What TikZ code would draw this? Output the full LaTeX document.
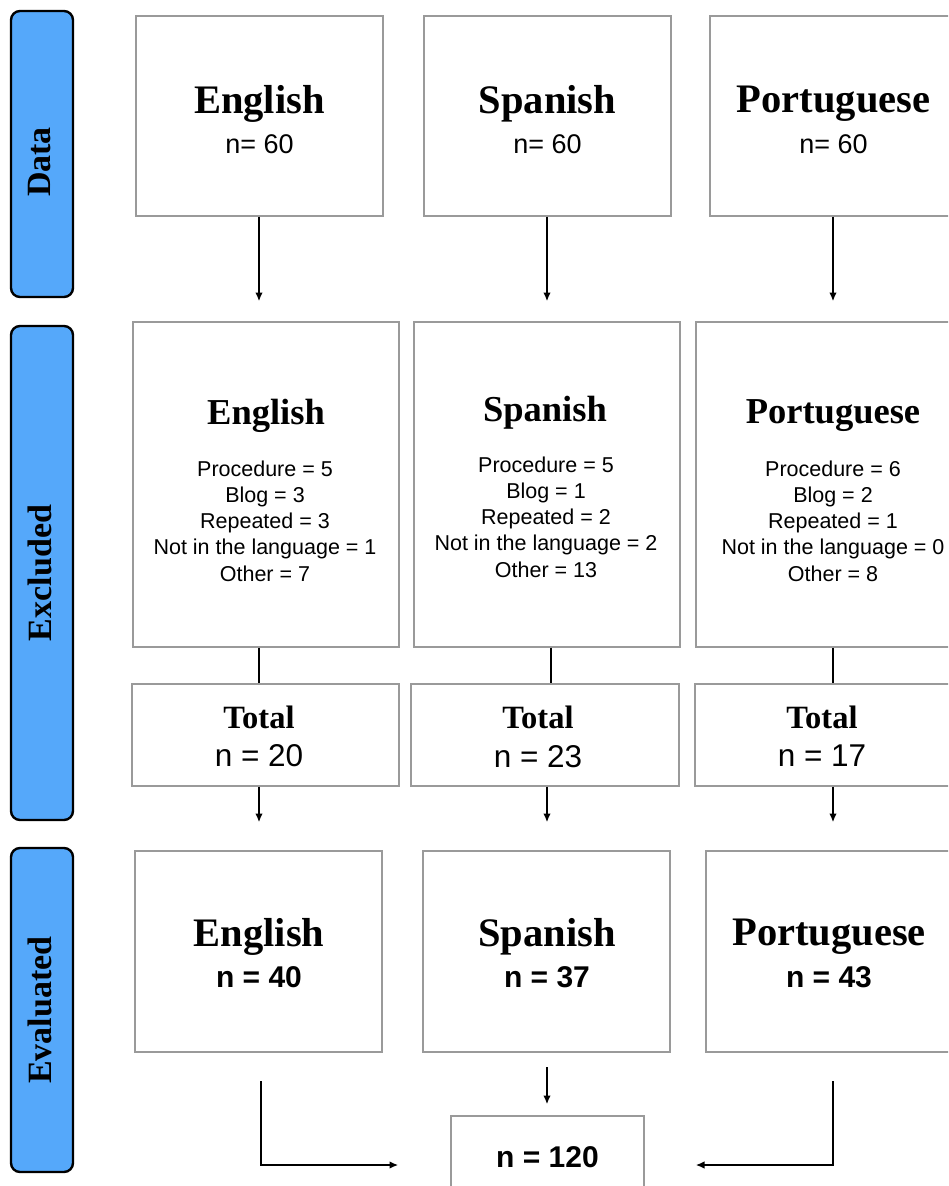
\documentclass[tikz,border=0pt]{standalone}
\usepackage{fontspec}
\setsansfont{Liberation Sans}
\newfontfamily\ttlfont{Liberation Serif}
\usetikzlibrary{arrows.meta}
\definecolor{barblue}{HTML}{55A8FA}
\definecolor{boxgray}{HTML}{9A9A9A}
\newcommand\mybox[5]{\node[box,minimum width={(#4-#2)*1pt},minimum height={(#5-#3)*1pt}] (#1) at ({(#2+#4)/2},{(#3+#5)/2}) {};}
\newcommand\mybar[3]{\node[bar,minimum width=62pt,minimum height={(#3-#2)*1pt}] (#1) at (42,{(#2+#3)/2}) {};}
\begin{document}
\begin{tikzpicture}[x=1pt,y=-1pt,
  bar/.style={draw=black,line width=2.4pt,fill=barblue,rounded corners=9pt,inner sep=0pt},
  box/.style={draw=boxgray,line width=1.3pt,fill=white,inner sep=0pt},
  conn/.style={black,line width=1.1pt},
  arr/.style={conn,-{Latex[length=8.5pt,width=7.5pt]}},
  side/.style={rotate=90,font=\ttlfont\bfseries\fontsize{34}{36}\selectfont,inner sep=0pt},
  ttl/.style={font=\ttlfont\bfseries\fontsize{40.5}{42}\selectfont,inner sep=0pt},
  xttl/.style={font=\ttlfont\bfseries\fontsize{36.5}{38}\selectfont,inner sep=0pt},
  tot/.style={font=\ttlfont\bfseries\fontsize{32.5}{34}\selectfont,inner sep=0pt},
  nlight/.style={font=\sffamily\fontsize{27}{29}\selectfont,inner sep=0pt},
  nmid/.style={font=\sffamily\fontsize{31.5}{33}\selectfont,inner sep=0pt},
  nbold/.style={font=\sffamily\bfseries\fontsize{30}{32}\selectfont,inner sep=0pt},
  items/.style={font=\sffamily\fontsize{21.5}{26.3}\selectfont,align=center,inner sep=0pt}]
\useasboundingbox (0,0) rectangle (948,1186);
\clip (0,0) rectangle (948,1186);
% side bars
\mybar{bData}{11}{297}
\mybar{bExcl}{326}{820}
\mybar{bEval}{848}{1172}
\node[side] (lData) at (40,162) {Data};
\node[side] (lExcl) at (40,573) {Excluded};
\node[side] (lEval) at (40,1010) {Evaluated};
% data row
\mybox{dE}{136}{16}{383}{216}
\mybox{dS}{424}{16}{671}{216}
\mybox{dP}{710}{16}{957}{216}
\node[ttl] (dEt) at (259.5,104) {English};
\node[ttl] (dSt) at (547.5,104) {Spanish};
\node[ttl] (dPt) at (833.5,104) {Portuguese};
\node[nlight] (dEn) at (259.5,144) {n= 60};
\node[nlight] (dSn) at (547.5,144) {n= 60};
\node[nlight] (dPn) at (833.5,144) {n= 60};
% excluded row
\mybox{xE}{133}{322}{399}{647}
\mybox{xS}{414}{322}{680}{647}
\mybox{xP}{696}{322}{970}{647}
\node[xttl] (xEt) at (266,416) {English};
\node[xttl] (xSt) at (545,413) {Spanish};
\node[xttl] (xPt) at (833,416) {Portuguese};
\node[items] (xEi) at (265,521) {Procedure = 5\\Blog = 3\\Repeated = 3\\Not in the language = 1\\Other = 7};
\node[items] (xSi) at (546,517) {Procedure = 5\\Blog = 1\\Repeated = 2\\Not in the language = 2\\Other = 13};
\node[items] (xPi) at (833,521) {Procedure = 6\\Blog = 2\\Repeated = 1\\Not in the language = 0\\Other = 8};
% totals
\mybox{tE}{132}{684}{399}{786}
\mybox{tS}{411}{684}{679}{786}
\mybox{tP}{695}{684}{971}{786}
\node[tot] (tEt) at (259,717) {Total};
\node[tot] (tSt) at (538,717) {Total};
\node[tot] (tPt) at (822,717) {Total};
\node[nmid] (tEn) at (259,756) {n = 20};
\node[nmid] (tSn) at (538,757) {n = 23};
\node[nmid] (tPn) at (822,756) {n = 17};
% evaluated row
\mybox{eE}{135}{851}{382}{1052}
\mybox{eS}{423}{851}{670}{1052}
\mybox{eP}{706}{851}{960}{1052}
\node[ttl] (eEt) at (259,937) {English};
\node[ttl] (eSt) at (547,937) {Spanish};
\node[ttl] (ePt) at (829,937) {Portuguese};
\node[nbold] (eEn) at (259,977) {n = 40};
\node[nbold] (eSn) at (547,977) {n = 37};
\node[nbold] (ePn) at (829,977) {n = 43};
% final box
\mybox{fin}{451}{1116}{644}{1200}
\node[nbold] (finn) at (547.5,1157) {n = 120};
% connector coordinates
\coordinate (a1E) at (259,301);
\coordinate (a1S) at (547,301);
\coordinate (a1P) at (833,301);
\coordinate (a2E) at (259,822);
\coordinate (a2S) at (547,822);
\coordinate (a2P) at (833,822);
\coordinate (sS) at (547,1067);
\coordinate (sE) at (261,1081);
\coordinate (sP) at (833,1081);
\coordinate (cE) at (261,1165);
\coordinate (cP) at (833,1165);
\coordinate (eEa) at (398,1165);
\coordinate (ePa) at (696,1165);
\coordinate (fS) at (547,1104);
\coordinate (mS) at (551,0);
% arrows
\draw[arr] (dE.south -| a1E) -- (a1E);
\draw[arr] (dS.south -| a1S) -- (a1S);
\draw[arr] (dP.south -| a1P) -- (a1P);
\draw[conn] (xE.south -| a1E) -- (tE.north -| a1E);
\draw[conn] (xS.south -| mS) -- (tS.north -| mS);
\draw[conn] (xP.south -| a1P) -- (tP.north -| a1P);
\draw[arr] (tE.south -| a2E) -- (a2E);
\draw[arr] (tS.south -| a2S) -- (a2S);
\draw[arr] (tP.south -| a2P) -- (a2P);
\draw[arr] (sS) -- (fS);
\draw[arr] (sE) -- (cE) -- (eEa);
\draw[arr] (sP) -- (cP) -- (ePa);
\end{tikzpicture}
\end{document}
